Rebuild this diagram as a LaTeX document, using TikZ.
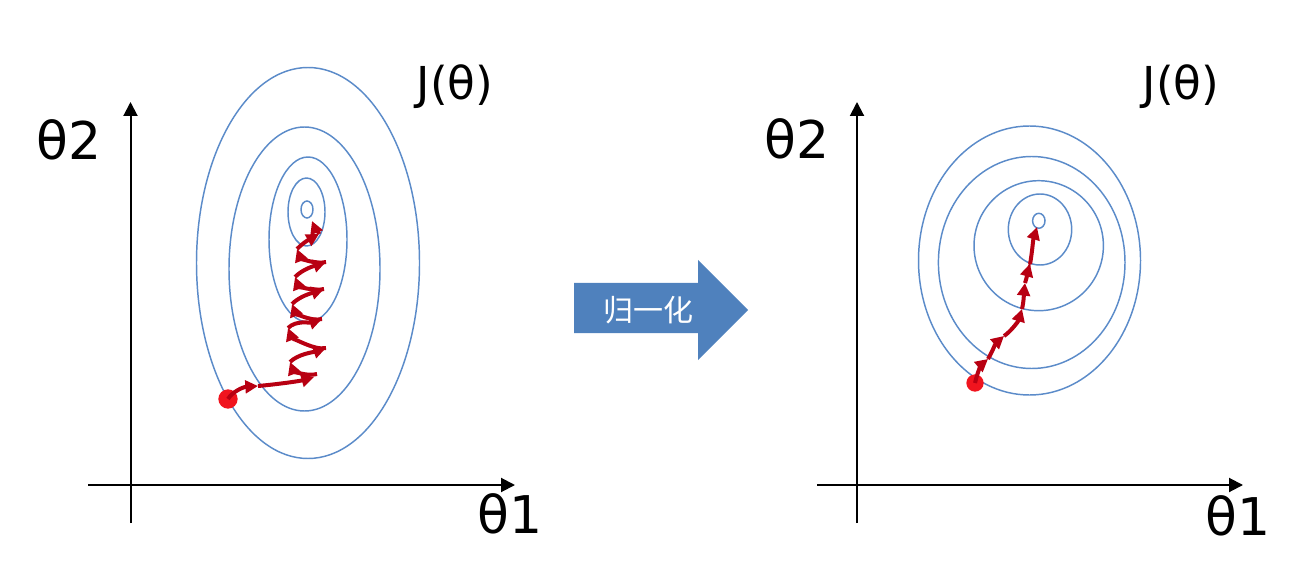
\documentclass[tikz,border=0pt]{standalone}
\usepackage{fontspec}
\setmainfont{DejaVu Sans}
\newfontfamily\cjk{Noto Sans CJK SC}
\usetikzlibrary{arrows.meta}
\definecolor{contour}{HTML}{5B8BC9}
\definecolor{blockblue}{HTML}{4F81BD}
\definecolor{pathred}{HTML}{B80012}
\definecolor{dotred}{HTML}{F0141E}
\tikzset{
  axis/.style={line width=1.5pt,-{Triangle[length=10.5pt,width=10.5pt]}},
  cont/.style={draw=contour,line width=1.1pt},
  stepline/.style={draw=pathred,line width=3pt,-{Triangle[length=9.5pt,width=9.5pt]}},
  bigl/.style={font=\fontsize{39}{46}\selectfont,inner sep=0pt},
  jl/.style={font=\fontsize{34}{40}\selectfont,inner sep=0pt},
  startdot/.style={circle,fill=dotred,inner sep=0pt},
}
\begin{document}
\begin{tikzpicture}[x=0.75pt,y=-0.75pt]
\useasboundingbox (0,0) rectangle (1308,584);
% ---------- left plot ----------
\coordinate (lyb) at (130.5,523);
\coordinate (lyt) at (130.5,102);
\coordinate (lxl) at (88,485);
\coordinate (lxr) at (515,485);
\draw[axis] (lyb) -- (lyt);
\draw[axis] (lxl) -- (lxr);
\node[bigl] (lt2) at (69,140) {θ2};
\node[bigl] (lt1) at (510,514) {θ1};
\node[jl] (lj) at (455,87) {J(θ)};
\draw[cont] (308,263) ellipse [x radius=111.5, y radius=195.5];
\draw[cont] (304.5,269) ellipse [x radius=75.5, y radius=142];
\draw[cont] (308,239.5) ellipse [x radius=39, y radius=82.5];
\draw[cont] (306.5,212) ellipse [x radius=18.5, y radius=34];
\draw[cont] (307,209.5) ellipse [x radius=6, y radius=8.5];
\coordinate (La) at (258,386);
\coordinate (Lb) at (314,377);
\coordinate (Z0) at (317,374);
\coordinate (Z1) at (290,362);
\coordinate (Z2) at (326,348);
\coordinate (Z3) at (288,328);
\coordinate (Z4) at (322,319);
\coordinate (Z5) at (292,304);
\coordinate (Z6) at (324,289);
\coordinate (Z7) at (295,277);
\coordinate (Z8) at (326,262);
\coordinate (Z9) at (297,249);
\coordinate (Z10) at (319,234);
\coordinate (Z11) at (312,221);
\node[startdot,minimum size=14.5pt] (L0) at (228,399) {};
\draw[stepline] (L0.center) .. controls (232,392) and (243,387) .. (La);
\draw[stepline] (La) .. controls (280,384) and (300,381) .. (Lb);
\draw[stepline] (Z0) .. controls (306,377) and (293,370) .. (Z1);
\draw[stepline] (Z1) .. controls (298,354) and (314,352) .. (Z2);
\draw[stepline] (Z2) .. controls (314,351) and (291,336) .. (Z3);
\draw[stepline] (Z3) .. controls (296,320) and (310,323) .. (Z4);
\draw[stepline] (Z4) .. controls (310,322) and (295,312) .. (Z5);
\draw[stepline] (Z5) .. controls (300,296) and (312,293) .. (Z6);
\draw[stepline] (Z6) .. controls (312,292) and (298,285) .. (Z7);
\draw[stepline] (Z7) .. controls (303,269) and (314,266) .. (Z8);
\draw[stepline] (Z8) .. controls (314,265) and (300,257) .. (Z9);
\draw[stepline] (Z9) .. controls (305,241) and (312,238) .. (Z10);
\draw[stepline] (Z10) .. controls (318,230) and (314,226) .. (Z11);
% ---------- middle arrow ----------
\fill[blockblue] (574,283) -- (698,283) -- (698,260) -- (748,310) -- (698,360) -- (698,333) -- (574,333) -- cycle;
\node[text=white,font=\cjk\fontsize{22.5}{26}\selectfont,inner sep=0pt] (norm) at (648,310) {归一化};
% ---------- right plot ----------
\coordinate (ryb) at (857,523);
\coordinate (ryt) at (857,102);
\coordinate (rxl) at (817,485);
\coordinate (rxr) at (1243,485);
\draw[axis] (ryb) -- (ryt);
\draw[axis] (rxl) -- (rxr);
\node[bigl] (rt2) at (797,139) {θ2};
\node[bigl] (rt1) at (1238,516) {θ1};
\node[jl] (rj) at (1181,87) {J(θ)};
\draw[cont] (1029.5,260.5) ellipse [x radius=111, y radius=134.5];
\draw[cont] (1031.7,262.5) ellipse [x radius=93.3, y radius=106];
\draw[cont] (1038.7,245.7) ellipse [x radius=64.7, y radius=65];
\draw[cont] (1040,229.5) ellipse [x radius=31.7, y radius=35.5];
\draw[cont] (1038.8,220.8) ellipse [x radius=6.2, y radius=7.5];
\coordinate (S1) at (988,359);
\coordinate (S2) at (1004,336);
\coordinate (S3) at (1022,309);
\coordinate (S4) at (1025,283);
\coordinate (S5) at (1030,264);
\coordinate (S6) at (1037,227);
\node[startdot,minimum size=13pt] (R0) at (975,383) {};
\draw[stepline] (R0.center) .. controls (978,370) and (982,364) .. (S1);
\draw[stepline] (S1) .. controls (991,354) and (996,343) .. (S2);
\draw[stepline] (S2) .. controls (1010,332) and (1018,322) .. (S3);
\draw[stepline] (S3) .. controls (1024,300) and (1024,292) .. (S4);
\draw[stepline] (S4) .. controls (1027,277) and (1028,271) .. (S5);
\draw[stepline] (S5) .. controls (1032,254) and (1033,240) .. (S6);
\end{tikzpicture}
\end{document}
